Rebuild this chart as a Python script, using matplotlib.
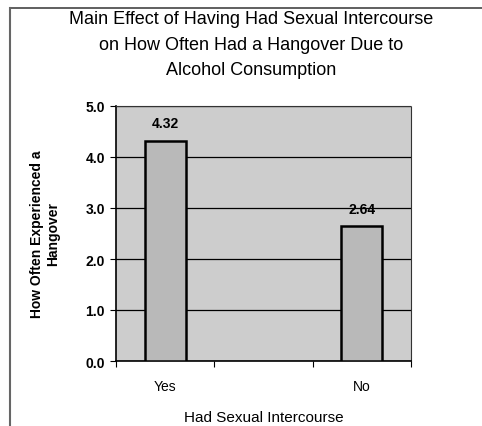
import matplotlib.pyplot as plt

# data
groups = ["Yes", "", "No"]
means = [4.32, None, 2.64]
yticks = [0.0, 1.0, 2.0, 3.0, 4.0, 5.0]

plt.rcParams["font.family"] = ["Liberation Sans", "DejaVu Sans"]

fig = plt.figure(figsize=(4.82, 4.27), dpi=100)
ax = fig.add_axes([116 / 482, 1 - 362 / 427, 295 / 482, 255 / 427])

# figure frame (only top and left edges visible)
fig.add_artist(plt.Line2D([10 / 482, 1.0], [1 - 9 / 427, 1 - 9 / 427], color="#444444", lw=1.2))
fig.add_artist(plt.Line2D([10 / 482, 10 / 482], [0, 1 - 9 / 427], color="#666666", lw=1.5))

ax.set_facecolor("#cdcdcd")
for i, (g, m) in enumerate(zip(groups, means)):
    if m is None:
        continue
    ax.bar(i, m, width=0.42, color="#b9b9b9", edgecolor="black", linewidth=1.8, zorder=3)
    ax.text(i, m + 0.2, f"{m:.2f}", ha="center", va="bottom", fontsize=10, fontweight="bold", zorder=4)

ax.set_xlim(-0.5, 2.5)
ax.set_ylim(0, 5)
ax.set_yticks(yticks)
ax.set_yticklabels([f"{t:.1f}" for t in yticks], fontsize=10, fontweight="bold")
ax.yaxis.grid(True, color="black", lw=0.9)
ax.set_axisbelow(True)

# category boundary ticks, labels centred on used categories
ax.set_xticks([-0.5, 0.5, 1.5, 2.5])
ax.set_xticklabels([])
ax.set_xticks([0, 2], minor=True)
ax.set_xticklabels([groups[0], groups[2]], minor=True, fontsize=10)
ax.tick_params(axis="x", which="minor", length=0, pad=13)
ax.tick_params(axis="x", which="major", length=4, direction="out")
ax.tick_params(axis="y", length=4, direction="out", pad=4)

for s in ["top", "right"]:
    ax.spines[s].set_linestyle((0, (1, 1)))
    ax.spines[s].set_color("#333333")
for s in ["left", "bottom"]:
    ax.spines[s].set_color("black")
    ax.spines[s].set_linewidth(1.2)

ax.set_xlabel("Had Sexual Intercourse", fontsize=11, labelpad=12)
ax.set_ylabel("How Often Experienced a\nHangover", fontsize=10, fontweight="bold", labelpad=18)

fig.text(0.52, 1 - 45 / 427,
         "Main Effect of Having Had Sexual Intercourse\non How Often Had a Hangover Due to\nAlcohol Consumption",
         ha="center", va="center", fontsize=13, linespacing=1.65)

fig.savefig("out.png", dpi=100)
